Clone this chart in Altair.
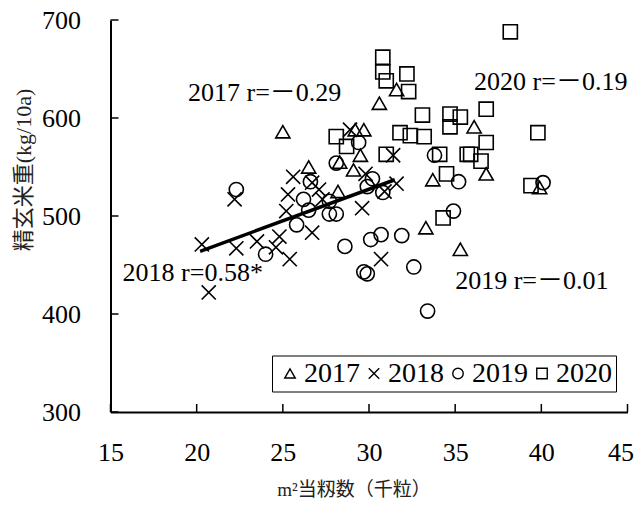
import altair as alt
import pandas as pd

years = ["2017", "2018", "2019", "2020"]

x_2017 = [25.0, 29.2, 29.7, 31.6, 30.6, 36.1, 29.5, 28.3, 29.1, 26.5, 28.2, 33.7, 36.8, 39.9, 33.3, 35.3]
y_2017 = [586, 588, 588, 629, 615, 591, 562, 555, 547, 550, 525, 537, 543, 529, 488, 466]

x_2018 = [20.3, 20.7, 22.3, 22.2, 23.5, 24.8, 24.6, 25.4, 26.7, 25.6, 25.3, 25.2, 26.7, 27.1, 27.3,
          29.6, 29.8, 30.9, 31.4, 28.9, 31.6, 30.7]
y_2018 = [471, 422, 467, 517, 474, 479, 468, 456, 483, 540, 522, 505, 534, 527, 517,
          508, 543, 525, 562, 588, 533, 456]

x_2019 = [22.3, 24.0, 25.8, 26.2, 26.5, 26.6, 27.7, 27.7, 28.1, 28.1, 29.4, 28.6, 30.2, 29.9, 30.8,
          30.1, 30.7, 31.9, 29.7, 29.9, 32.6, 33.4, 33.8, 35.2, 34.9, 40.1]
y_2019 = [527, 461, 491, 517, 506, 535, 515, 502, 502, 554, 575, 469, 538, 530, 524,
          476, 481, 480, 443, 441, 448, 403, 562, 535, 505, 534]

x_2020 = [38.2, 30.8, 30.8, 31.0, 32.2, 32.3, 36.8, 33.1, 34.7, 35.3, 34.7, 39.8, 31.8, 32.4, 33.2,
          28.1, 28.7, 36.8, 31.0, 34.1, 35.7, 35.9, 36.5, 34.5, 39.4, 34.3]
y_2020 = [688, 662, 647, 638, 645, 627, 609, 603, 604, 601, 591, 585, 585, 582, 581,
          581, 571, 575, 563, 563, 563, 563, 556, 543, 531, 498]

fit_x = [20.2, 31.5]
fit_y = [464, 537]

note_text = ["2017 r=－0.29", "2020 r=－0.19", "2018 r=0.58*", "2019 r=－0.01"]
note_x = [19.5, 36.1, 15.7, 35.0]
note_y = [626, 637, 442, 434]

x_ticks = [15, 20, 25, 30, 35, 40, 45]
y_ticks = [300, 400, 500, 600, 700]

x_title = "m²当籾数（千粒）"
y_title = "精玄米重(kg/10a)"

shapes = ["triangle-up", "M-1,-1L1,1M-1,1L1,-1", "circle", "square"]

rows = []
for yr, xs, ys in zip(years, [x_2017, x_2018, x_2019, x_2020], [y_2017, y_2018, y_2019, y_2020]):
    for a, b in zip(xs, ys):
        rows.append({"spikelets": a, "yield": b, "year": yr})
pts = pd.DataFrame(rows)
fit = pd.DataFrame({"fx": fit_x, "fy": fit_y})
notes = pd.DataFrame({"t": note_text, "nx": note_x, "ny": note_y})

FONT = "Liberation Serif, Noto Sans CJK JP"

x_scale = alt.Scale(domain=[15, 45], nice=False, zero=False)
y_scale = alt.Scale(domain=[300, 700], nice=False, zero=False)

x_axis = alt.Axis(values=x_ticks, tickSize=0, labelPadding=27, labelFontSize=26, labelFont=FONT,
                  labelColor="black", labelFlush=False, labelOverlap=False, domainColor="black",
                  labelAlign=alt.condition("datum.value == 45", alt.value("right"), alt.value("center")),
                  labelOffset=alt.condition("datum.value == 45", alt.value(6), alt.value(0)),
                  domainWidth=2, grid=False, title=x_title, titleFont=FONT, titleFontSize=19,
                  titleFontWeight="normal", titleColor="#222", titleX=243, titleY=77,
                  titleBaseline="middle", titleAlign="center")
y_axis = alt.Axis(values=y_ticks, tickSize=0, labelPadding=30, labelFontSize=26, labelFont=FONT,
                  labelColor="black", labelFlush=False, labelOverlap=False, domainColor="black",
                  domainWidth=2, grid=False, title=None)

legend = alt.Legend(title=None, orient="none", legendX=161.5, legendY=335.5, direction="horizontal",
                    columns=4, labelFontSize=28, labelFont=FONT, labelColor="black", symbolSize=110,
                    symbolStrokeWidth=1.4, symbolStrokeColor="black", symbolFillColor="transparent",
                    symbolOpacity=1, strokeColor="black", padding=4, columnPadding=0, labelOffset=0)

points = alt.Chart(pts).mark_point(filled=False, size=200, strokeWidth=1.6, opacity=1, color="black").encode(
    x=alt.X("spikelets:Q", scale=x_scale, axis=x_axis),
    y=alt.Y("yield:Q", scale=y_scale, axis=y_axis),
    shape=alt.Shape("year:N", scale=alt.Scale(domain=years, range=shapes), legend=legend),
)

line = alt.Chart(fit).mark_line(color="black", strokeWidth=3.5).encode(
    x=alt.X("fx:Q", scale=x_scale),
    y=alt.Y("fy:Q", scale=y_scale),
)

xt = alt.Chart(pd.DataFrame({"v": x_ticks})).mark_rule(color="black", strokeWidth=1.5).encode(
    x=alt.X("v:Q", scale=x_scale), y=alt.value(392), y2=alt.value(384)
)
yt = alt.Chart(pd.DataFrame({"w": y_ticks})).mark_rule(color="black", strokeWidth=1.5).encode(
    y=alt.Y("w:Q", scale=y_scale), x=alt.value(0), x2=alt.value(8)
)

texts = alt.Chart(notes).mark_text(align="left", baseline="middle", fontSize=26, font=FONT, color="black").encode(
    x=alt.X("nx:Q", scale=x_scale),
    y=alt.Y("ny:Q", scale=y_scale),
    text="t:N",
)

ytitle = alt.Chart(pd.DataFrame({"t": [y_title]})).mark_text(
    angle=270, align="center", baseline="middle", fontSize=22, font=FONT, color="#222"
).encode(x=alt.value(-86.5), y=alt.value(150), text="t:N")

chart = alt.layer(points, line, xt, yt, texts, ytitle).properties(
    width=517, height=392,
    autosize=alt.AutoSizeParams(type="none"),
    padding={"left": 102.5, "top": 12, "right": 6.5, "bottom": 89},
).configure_view(stroke=None)

chart.save("out.html", embed_options={"renderer": "svg", "actions": False})
